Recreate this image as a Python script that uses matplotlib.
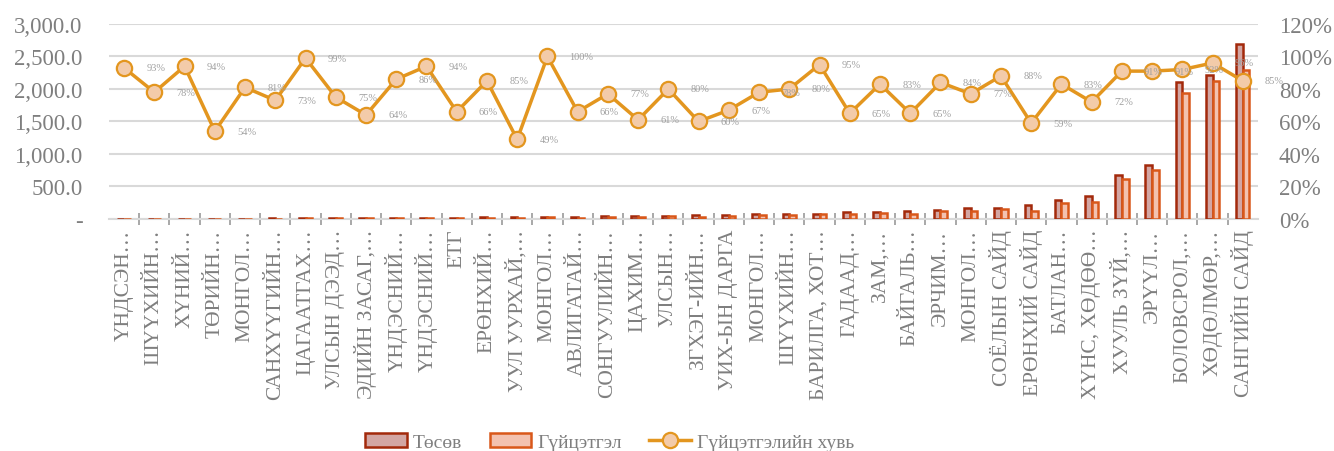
import matplotlib
matplotlib.use("Agg")
import matplotlib.pyplot as plt
import numpy as np
from matplotlib.patches import Patch
from matplotlib.lines import Line2D
from matplotlib.ticker import FuncFormatter, PercentFormatter

plt.rcParams['font.family'] = ['Liberation Serif', 'DejaVu Serif']

categories = ["ҮНДСЭН…", "ШҮҮХИЙН…", "ХҮНИЙ…", "ТӨРИЙН…", "МОНГОЛ…", "САНХҮҮГИЙН…",
              "ЦАГААТГАХ…", "УЛСЫН ДЭЭД…", "ЭДИЙН ЗАСАГ,…", "ҮНДЭСНИЙ…", "ҮНДЭСНИЙ…",
              "ЕТГ", "ЕРӨНХИЙ…", "УУЛ УУРХАЙ,…", "МОНГОЛ…", "АВЛИГАТАЙ…", "СОНГУУЛИЙН…",
              "ЦАХИМ…", "УЛСЫН…", "ЗГХЭГ-ИЙН…", "УИХ-ЫН ДАРГА", "МОНГОЛ…", "ШҮҮХИЙН…",
              "БАРИЛГА, ХОТ…", "ГАДААД…", "ЗАМ,…", "БАЙГАЛЬ…", "ЭРЧИМ…", "МОНГОЛ…",
              "СОЁЛЫН САЙД", "ЕРӨНХИЙ САЙД", "БАТЛАН…", "ХҮНС, ХӨДӨӨ…", "ХУУЛЬ ЗҮЙ,…",
              "ЭРҮҮЛ…", "БОЛОВСРОЛ,…", "ХӨДӨЛМӨР,…", "САНГИЙН САЙД"]

budget = [3, 4, 5, 5, 6, 8, 10, 11, 13, 15, 17, 20, 24, 26, 30, 33, 40, 42, 52, 55,
          68, 70, 78, 82, 108, 110, 128, 143, 164, 166, 220, 297, 360, 678, 830,
          2106, 2209, 2699]

actual = [2.8, 3.1, 4.7, 2.7, 4.9, 5.8, 9.9, 8.3, 8.3, 12.9, 16.0, 13.2, 20.4, 12.7,
          30.0, 21.8, 30.8, 25.6, 41.6, 33.0, 45.6, 54.6, 62.4, 77.9, 70.2, 91.3,
          83.2, 120.1, 126.3, 146.1, 129.8, 246.5, 259.2, 617.0, 755.3, 1937.5,
          2120.6, 2294.2]

pct = [93, 78, 94, 54, 81, 73, 99, 75, 64, 86, 94, 66, 85, 49, 100, 66, 77, 61, 80,
       60, 67, 78, 80, 95, 65, 83, 65, 84, 77, 88, 59, 83, 72, 91, 91, 92, 96, 85]

series_names = ["Төсөв", "Гүйцэтгэл", "Гүйцэтгэлийн хувь"]

gray = '#7f7f7f'
grid_c = '#d9d9d9'
c1_face, c1_edge = '#d3a6a3', '#a3290b'
c2_face, c2_edge = '#f3c2b0', '#d9581a'
line_c = '#e3961f'
mk_face = '#f3cba9'

fig = plt.figure(figsize=(13.34, 4.52), dpi=100)
ax = fig.add_axes([0.0817, 0.5133, 0.8613, 0.4314])
ax2 = ax.twinx()

x = np.arange(len(categories))
w = 0.22
ax.bar(x - w / 2, budget, width=w, color=c1_face, edgecolor=c1_edge, linewidth=1.8, zorder=3)
ax.bar(x + w / 2, actual, width=w, color=c2_face, edgecolor=c2_edge, linewidth=1.8, zorder=3)

ax.set_ylim(0, 3000)
ax.set_xlim(-0.5, len(categories) - 0.5)
ax.set_yticks(np.arange(0, 3001, 500))
ax.yaxis.set_major_formatter(FuncFormatter(lambda v, p: '-' if v == 0 else f'{v:,.1f}'))
ax.grid(axis='y', color=grid_c, linewidth=1.5, zorder=0)
ax.set_axisbelow(True)
for s in ['top', 'left', 'right']:
    ax.spines[s].set_visible(False)
ax.spines['bottom'].set_color(grid_c)
ax.spines['bottom'].set_linewidth(1.5)
ax.tick_params(axis='y', length=0, labelsize=16.5, labelcolor=gray, pad=19)
ax.set_xticks(x)
ax.set_xticklabels(categories, rotation=90, fontsize=15.5, color=gray)
ax.tick_params(axis='x', which='major', length=0, pad=7)
ax.set_xticks(x[:-1] + 0.5, minor=True)
ax.tick_params(axis='x', which='minor', direction='inout', length=8, width=1.2, color='#999999')

ax2.plot(x, [p / 100 for p in pct], color=line_c, linewidth=2.5, marker='o', markersize=11,
         markerfacecolor=mk_face, markeredgecolor=line_c, markeredgewidth=1.6, zorder=5)
for xi, p in zip(x, pct):
    ax2.annotate(f'{p}%', (xi, p / 100), xytext=(16, 0), textcoords='offset points',
                 ha='left', va='center', fontsize=7.5, color='#a0a0a0', zorder=6)
ax2.set_ylim(0, 1.2)
ax2.set_yticks(np.arange(0, 1.21, 0.2))
ax2.yaxis.set_major_formatter(PercentFormatter(1.0, decimals=0))
ax2.tick_params(axis='y', length=0, labelsize=16.5, labelcolor=gray, pad=15)
for s in ['top', 'left', 'right', 'bottom']:
    ax2.spines[s].set_visible(False)

handles = [Patch(facecolor=c1_face, edgecolor=c1_edge, linewidth=1.8),
           Patch(facecolor=c2_face, edgecolor=c2_edge, linewidth=1.8),
           Line2D([0], [0], color=line_c, linewidth=2.5, marker='o', markersize=11,
                  markerfacecolor=mk_face, markeredgecolor=line_c, markeredgewidth=1.6)]
leg = fig.legend(handles, series_names, loc='center', bbox_to_anchor=(0.457, 0.02), ncol=3,
                 frameon=False, fontsize=14, labelcolor=gray, handlelength=2.15,
                 handleheight=0.69, handletextpad=0.3, columnspacing=1.4)

fig.savefig('out.png', dpi=100)
